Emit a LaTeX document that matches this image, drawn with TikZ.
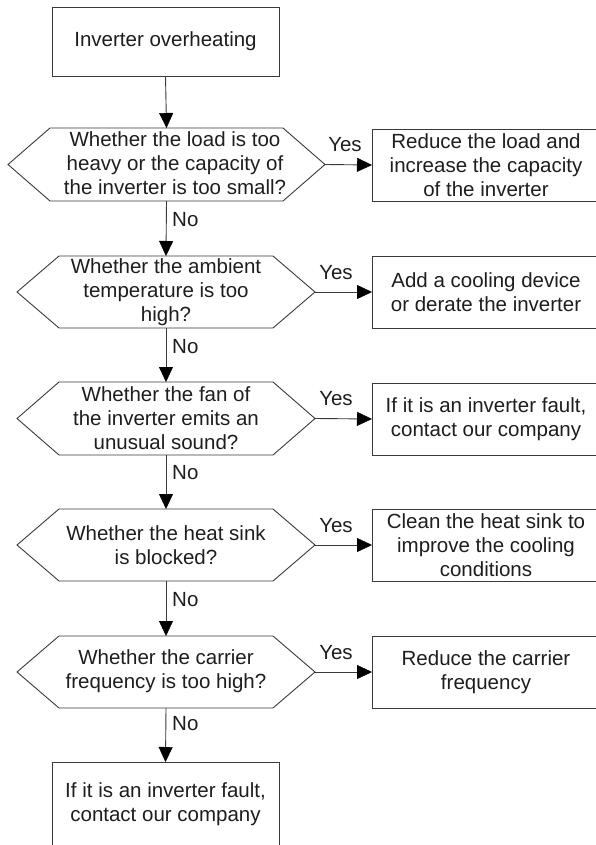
\documentclass[tikz,border=0pt]{standalone}
\usepackage{fontspec}
\setmainfont{Liberation Sans}
\usetikzlibrary{arrows.meta}
\definecolor{ink}{HTML}{1E1E1E}
\definecolor{edgec}{HTML}{3A3A3A}
\tikzset{
  txt/.style={font=\fontsize{20.5}{24}\selectfont, text=ink, align=center, inner sep=0pt},
  boxnode/.style={txt, draw=edgec, line width=0.9pt, rectangle, outer sep=0pt},
  hexframe/.style={rectangle, inner sep=0pt, outer sep=0pt, draw=none},
  hexline/.style={draw=edgec, line width=0.9pt, line join=miter},
  flow/.style={draw=edgec, line width=0.9pt, -{Triangle[length=15pt,width=14pt,color=black,fill=black,line width=0.4pt]}},
  lbl/.style={txt},
}
\newcommand{\hexdraw}[1]{%
  \draw[hexline] (#1.west) -- ([xshift=42pt]#1.north west) -- ([xshift=-42pt]#1.north east)
    -- (#1.east) -- ([xshift=-42pt]#1.south east) -- ([xshift=42pt]#1.south west) -- cycle;}
\begin{document}
\begin{tikzpicture}[x=1pt,y=-1pt]
\path[use as bounding box, clip] (0,0) rectangle (596,845);
\fill[white] (0,0) rectangle (596,845);

% start box
\node[boxnode, minimum width=227pt, minimum height=69pt] (start) at (165.5,41.5) {Inverter overheating};

% decision frames
\node[hexframe, minimum width=317pt, minimum height=73pt] (h1) at (166.5,164.5) {};
\node[hexframe, minimum width=298pt, minimum height=72pt] (h2) at (166,292) {};
\node[hexframe, minimum width=298pt, minimum height=73pt] (h3) at (166,418.5) {};
\node[hexframe, minimum width=298pt, minimum height=72pt] (h4) at (166,545) {};
\node[hexframe, minimum width=298pt, minimum height=72pt] (h5) at (166,672) {};
\hexdraw{h1}\hexdraw{h2}\hexdraw{h3}\hexdraw{h4}\hexdraw{h5}

% decision texts
\node[txt] (h1t) at (175,163.5) {Whether the load is too\\heavy or the capacity of\\the inverter is too small?};
\node[txt] (h2t) at (166,292) {Whether the ambient\\temperature is too\\high?};
\node[txt] (h3t) at (166,418) {Whether the fan of\\the inverter emits an\\unusual sound?};
\node[txt] (h4t) at (166,545) {Whether the heat sink\\is blocked?};
\node[txt] (h5t) at (166,671.5) {Whether the carrier\\frequency is too high?};

% action boxes
\node[boxnode, minimum width=228pt, minimum height=72pt] (r1) at (486,165) {Reduce the load and\\increase the capacity\\of the inverter};
\node[boxnode, minimum width=228pt, minimum height=72pt] (r2) at (486,292) {Add a cooling device\\or derate the inverter};
\node[boxnode, minimum width=228pt, minimum height=72pt] (r3) at (486,419) {If it is an inverter fault,\\contact our company};
\node[boxnode, minimum width=228pt, minimum height=72pt] (r4) at (486,545) {Clean the heat sink to\\improve the cooling\\conditions};
\node[boxnode, minimum width=228pt, minimum height=72pt] (r5) at (486,672) {Reduce the carrier\\frequency};

% end box
\node[boxnode, minimum width=227pt, minimum height=85pt] (fin) at (165.5,804.5) {If it is an inverter fault,\\contact our company};

% vertical flow
\draw[flow] (start.south) -- (h1.north);
\draw[flow] (h1.south) -- (h2.north);
\draw[flow] (h2.south) -- (h3.north);
\draw[flow] (h3.south) -- (h4.north);
\draw[flow] (h4.south) -- (h5.north);
\draw[flow] (h5.south) -- (fin.north);

% yes flow
\draw[flow] (h1.east) -- (r1.west);
\draw[flow] (h2.east) -- (r2.west);
\draw[flow] (h3.east) -- (r3.west);
\draw[flow] (h4.east) -- (r4.west);
\draw[flow] (h5.east) -- (r5.west);

% labels
\node[lbl] (y1) at (345,145) {Yes};
\node[lbl] (y2) at (336,273) {Yes};
\node[lbl] (y3) at (336,399) {Yes};
\node[lbl] (y4) at (336,526) {Yes};
\node[lbl] (y5) at (336,653) {Yes};
\node[lbl, anchor=west] (n1) at (172,220) {No};
\node[lbl, anchor=west] (n2) at (172,347) {No};
\node[lbl, anchor=west] (n3) at (172,473) {No};
\node[lbl, anchor=west] (n4) at (172,600) {No};
\node[lbl, anchor=west] (n5) at (172,724) {No};
\end{tikzpicture}
\end{document}
